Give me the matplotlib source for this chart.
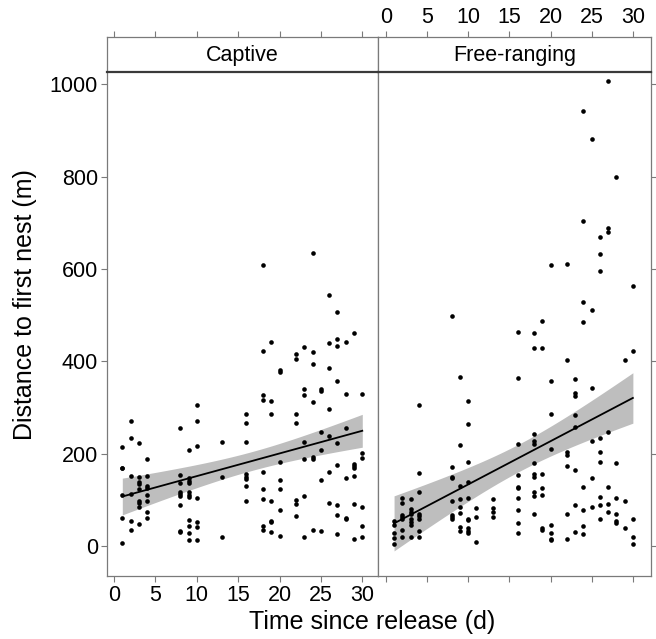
import matplotlib.pyplot as plt
import numpy as np

plt.rcParams['font.family'] = 'Liberation Sans'

# days since release and distances (m) read per day
captive_days = [1, 2, 3, 4, 8, 9, 10, 13, 16, 18, 19, 20, 22, 23, 24, 25, 26, 27, 28, 29, 30]
captive_dist = [
    [215, 170, 168, 110, 60, 6],
    [270, 235, 151, 113, 55, 34],
    [223, 149, 139, 134, 123, 97, 93, 84, 48],
    [189, 151, 129, 125, 111, 98, 74, 60],
    [256, 153, 137, 118, 113, 109, 89, 32, 30],
    [209, 147, 141, 136, 116, 110, 107, 56, 44, 29, 12],
    [306, 270, 217, 103, 52, 42, 12],
    [225, 149, 19],
    [287, 266, 225, 157, 150, 146, 130, 98],
    [609, 422, 328, 316, 161, 123, 102, 43, 35],
    [443, 315, 287, 98, 55, 51, 30],
    [381, 377, 183, 144, 123, 78, 22],
    [415, 406, 285, 266, 100, 90, 64],
    [432, 340, 328, 225, 188, 108, 20],
    [634, 420, 394, 311, 192, 188, 35],
    [340, 336, 246, 208, 143, 32],
    [543, 440, 385, 297, 239, 161, 94],
    [506, 448, 433, 358, 224, 176, 89, 67, 26],
    [442, 329, 256, 147, 61, 58],
    [461, 177, 173, 170, 152, 91, 15],
    [329, 201, 191, 85, 43, 20],
]

free_days = [1, 2, 3, 4, 8, 9, 10, 11, 13, 16, 18, 19, 20, 22, 23, 24, 25, 26, 27, 28, 29, 30]
free_dist = [
    [55, 46, 29, 17, 4],
    [105, 94, 67, 62, 58, 35, 20],
    [101, 80, 74, 69, 58, 52, 46, 20],
    [305, 159, 116, 69, 64, 58, 33, 19],
    [498, 172, 150, 147, 97, 68, 62, 58],
    [366, 219, 129, 101, 85, 71, 42, 33],
    [315, 264, 182, 139, 105, 58, 56, 38, 33, 29],
    [83, 62, 9],
    [101, 82, 74, 62],
    [464, 364, 221, 154, 128, 125, 105, 77, 49, 29],
    [462, 430, 242, 228, 221, 179, 157, 150, 118, 108, 70],
    [488, 428, 157, 126, 110, 39, 34],
    [609, 358, 285, 211, 45, 29, 16, 12],
    [612, 403, 203, 197, 174, 70, 15],
    [361, 332, 326, 283, 257, 165, 88, 31],
    [943, 705, 529, 485, 128, 77, 43, 26],
    [882, 511, 342, 227, 148, 85],
    [669, 632, 595, 233, 204, 183, 107, 88, 59],
    [1008, 689, 680, 247, 127, 90, 74],
    [800, 179, 105, 69, 54, 50],
    [402, 97, 38],
    [564, 422, 59, 20, 4],
]

panel_names = ['Captive', 'Free-ranging']
xticks = [0, 5, 10, 15, 20, 25, 30]
yticks = [0, 200, 400, 600, 800, 1000]


def flatten(days, dists):
    x, y = [], []
    for d, vals in zip(days, dists):
        x += [d] * len(vals)
        y += vals
    return np.array(x, float), np.array(y, float)


def fit_band(x, y, xg):
    n = len(x)
    b, a = np.polyfit(x, y, 1)
    res = y - (a + b * x)
    s = np.sqrt(np.sum(res ** 2) / (n - 2))
    xm = x.mean()
    se = s * np.sqrt(1 / n + (xg - xm) ** 2 / np.sum((x - xm) ** 2))
    yfit = a + b * xg
    return yfit, yfit - 1.97 * se, yfit + 1.97 * se


frame_col = '#7a7a7a'
fig = plt.figure(figsize=(6.56, 6.39), dpi=100)

lefts = [107 / 656, 378 / 656]
widths = [271 / 656, 273 / 656]
bottom = 63 / 639
height = 504 / 639
strip_b = 567 / 639
strip_h = 35 / 639

data = [flatten(captive_days, captive_dist), flatten(free_days, free_dist)]

for i in range(2):
    ax = fig.add_axes([lefts[i], bottom, widths[i], height])
    st = fig.add_axes([lefts[i], strip_b, widths[i], strip_h])
    x, y = data[i]
    xg = np.linspace(1, 30, 120)
    yfit, lo, hi = fit_band(x, y, xg)
    ax.fill_between(xg, lo, hi, color='#bebebe', lw=0, zorder=1)
    ax.plot(xg, yfit, color='black', lw=1.3, zorder=2)
    ax.scatter(x, y, s=11, color='black', lw=0, zorder=3)

    xlim = (-0.85, 31.9) if i == 0 else (-0.95, 32.2)
    for a_ in (ax, st):
        a_.set_xlim(*xlim)
        for sp in a_.spines.values():
            sp.set_color(frame_col)
            sp.set_linewidth(0.9)
    ax.set_ylim(-65, 1027)
    st.set_ylim(0, 1)
    st.set_yticks([])
    ax.spines['top'].set_visible(False)
    st.spines['bottom'].set_color('#3a3a3a')
    st.spines['bottom'].set_linewidth(1.6)
    st.text(0.5, 0.46, panel_names[i], transform=st.transAxes, ha='center',
            va='center', fontsize=15.5)

    ax.set_xticks(xticks)
    ax.set_yticks(yticks)
    st.set_xticks(xticks)
    tick_kw = dict(direction='out', length=4.5, width=0.8, color=frame_col,
                   labelsize=15.5, labelcolor='black', pad=2)
    ax.tick_params(**tick_kw)
    st.tick_params(**tick_kw)
    st.xaxis.set_ticks_position('top')
    if i == 0:
        ax.tick_params(axis='y', left=True, right=False, labelleft=True)
        ax.tick_params(axis='x', labelbottom=True)
        st.tick_params(axis='x', labeltop=False)
    else:
        ax.tick_params(axis='y', left=False, right=True, labelleft=False,
                       labelright=False)
        ax.tick_params(axis='x', labelbottom=False)
        st.tick_params(axis='x', labeltop=True)

fig.text(25 / 656, 1 - 305 / 639, 'Distance to first nest (m)', rotation=90,
         ha='center', va='center', fontsize=18)
fig.text(372 / 656, 1 - 622 / 639, 'Time since release (d)', ha='center',
         va='center', fontsize=18)

fig.savefig('out.png', dpi=100)
